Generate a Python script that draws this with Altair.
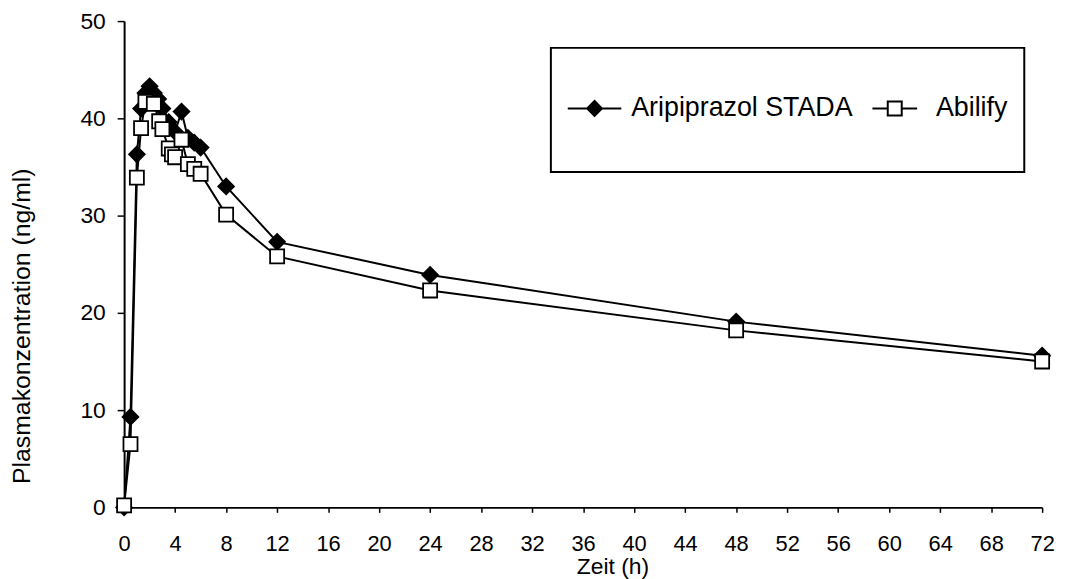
import altair as alt
import pandas as pd

series_names = ["Aripiprazol STADA", "Abilify"]

stada_time = [0, 0.5, 1.0, 1.33, 1.67, 2.0, 2.33, 2.67, 3.0, 3.5, 4.0, 4.5, 5.0, 5.5, 6.0, 8, 12, 24, 48, 72]
stada_conc = [0.0, 9.3, 36.3, 41.0, 42.6, 43.3, 42.6, 42.0, 41.0, 39.6, 38.6, 40.7, 38.0, 37.5, 37.0, 33.0, 27.3, 23.9, 19.1, 15.6]

abilify_time = [0, 0.5, 1.0, 1.33, 1.67, 2.33, 2.75, 3.0, 3.5, 3.75, 4.0, 4.5, 5.0, 5.5, 6.0, 8, 12, 24, 48, 72]
abilify_conc = [0.2, 6.5, 33.9, 39.0, 41.7, 41.5, 39.7, 38.9, 36.9, 36.3, 36.0, 37.8, 35.3, 34.8, 34.3, 30.1, 25.8, 22.3, 18.2, 15.0]

x_ticks = list(range(0, 73, 4))
y_ticks = [0, 10, 20, 30, 40, 50]

rows = []
for t, c in zip(stada_time, stada_conc):
    rows.append({"series": series_names[0], "time": t, "conc": c})
for t, c in zip(abilify_time, abilify_conc):
    rows.append({"series": series_names[1], "time": t, "conc": c})
df = pd.DataFrame(rows)

FONT = "Liberation Sans"

x = alt.X(
    "time:Q",
    scale=alt.Scale(domain=[0, 72], nice=False, zero=False),
    axis=alt.Axis(values=x_ticks, title="Zeit (h)", tickSize=5, labelPadding=21,
                  labelFontSize=22, titleFontSize=23, titleX=492, titleY=60,
                  titleBaseline="middle", titleAnchor="middle", labelFlush=False),
)
y = alt.Y(
    "conc:Q",
    scale=alt.Scale(domain=[0, 50], nice=False),
    axis=alt.Axis(values=y_ticks, title="Plasmakonzentration (ng/ml)", tickSize=7, labelPadding=12,
                  labelFontSize=23, titleFontSize=25, titleX=-103, titleY=307,
                  titleBaseline="middle", titleAngle=270),
)

lines = alt.Chart(df).mark_line(color="black", strokeWidth=2).encode(
    x=x, y=y, detail="series:N", order="time:Q"
)

points = alt.Chart(df).mark_point(filled=True, opacity=1, stroke="black", strokeWidth=1.8).encode(
    x=x,
    y=y,
    shape=alt.Shape("series:N", scale=alt.Scale(domain=series_names, range=["diamond", "square"]), legend=None),
    fill=alt.Fill("series:N", scale=alt.Scale(domain=series_names, range=["black", "white"]), legend=None),
    size=alt.Size("series:N", scale=alt.Scale(domain=series_names, range=[250, 200]), legend=None),
)

path_stada = "M-1,-1M-1,1M-1,0H0.227M-0.556,0L-0.386,-0.17L-0.216,0L-0.386,0.17Z"
path_abilify = "M-1,-1M-1,1M-1,0H-0.649M-0.329,0H0.023M-0.649,-0.16H-0.329V0.16H-0.649Z"

legend = alt.Legend(
    title=None, orient="none", legendX=430, legendY=27, direction="horizontal",
    symbolSize=7744, symbolStrokeWidth=2, symbolStrokeColor="black", symbolOpacity=1,
    labelFontSize=27, labelFont=FONT, labelColor="black", labelOffset={"expr": "-25"}, labelLimit=500,
    columnPadding=15, padding=16, strokeColor="black",
)

legend_layer = alt.Chart(df).mark_point(filled=True, opacity=0).encode(
    x=x,
    y=y,
    shape=alt.Shape("series:N", scale=alt.Scale(domain=series_names, range=[path_stada, path_abilify]), legend=legend),
    fill=alt.Fill("series:N", scale=alt.Scale(domain=series_names, range=["black", "white"]), legend=legend),
    stroke=alt.Stroke("series:N", scale=alt.Scale(domain=series_names, range=["black", "black"]), legend=legend),
)

chart = (
    alt.layer(lines, points, legend_layer)
    .resolve_scale(shape="independent", fill="independent", size="independent", stroke="independent")
    .properties(width=925, height=490, padding={"left": 2, "right": 5, "top": 0, "bottom": 0})
    .configure_view(stroke=None)
    .configure_axis(
        grid=False, domainColor="black", domainWidth=2, tickColor="black", tickWidth=1.5,
        labelColor="black", titleColor="black", labelFont=FONT, titleFont=FONT,
        titleFontWeight="normal",
    )
    .configure_legend(strokeWidth=2)
)

chart.save("out.html", embed_options={"renderer": "svg", "actions": False})
